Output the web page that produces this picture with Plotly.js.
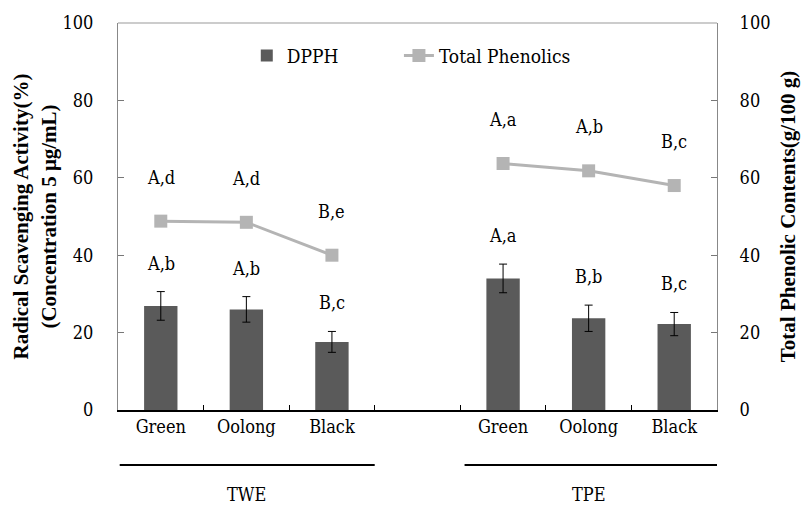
<!DOCTYPE html>
<html>
<head>
<meta charset="utf-8">
<script src="https://cdn.plot.ly/plotly-3.0.1.min.js"></script>
<style>body{margin:0;background:#fff}#chart{width:803px;height:505px}</style>
</head>
<body>
<div id="chart"></div>
<script>
// ---- data ----
const groups = ['TWE', 'TPE'];
const teas = ['Green', 'Oolong', 'Black'];
const dpph = [[26.9, 26.0, 17.6], [34.0, 23.7, 22.2]];
const dpphErr = [[3.7, 3.3, 2.7], [3.7, 3.4, 3.0]];
const phenolics = [[48.8, 48.5, 40.0], [63.7, 61.8, 58.0]];
const dpphLabels = [['A,b', 'A,b', 'B,c'], ['A,a', 'B,b', 'B,c']];
const phenLabels = [['A,d', 'A,d', 'B,e'], ['A,a', 'A,b', 'B,c']];
const yTicks = [0, 20, 40, 60, 80, 100];

const cats = [], catText = [], yD = [], eD = [], yP = [], lD = [], lP = [];
groups.forEach((g, gi) => {
  if (gi > 0) { cats.push('gap'); catText.push(''); yD.push(null); eD.push(null); yP.push(null); lD.push(''); lP.push(''); }
  teas.forEach((t, ti) => {
    cats.push(g + ' ' + t); catText.push(t);
    yD.push(dpph[gi][ti]); eD.push(dpphErr[gi][ti]);
    yP.push(phenolics[gi][ti]);
    lD.push(dpphLabels[gi][ti]); lP.push(phenLabels[gi][ti]);
  });
});

const FONT = '"DejaVu Serif Condensed", "DejaVu Serif", serif';
const BFONT = '"Liberation Serif", "DejaVu Serif", serif';
const SZ = 18;

const traces = [
  {
    type: 'bar', name: 'DPPH', x: cats, y: yD, legend: 'legend',
    marker: { color: '#5a5a5a' },
    error_y: { type: 'data', array: eD, visible: true, color: '#000', thickness: 1, width: 4 },
    hoverinfo: 'skip'
  },
  {
    type: 'scatter', mode: 'lines+markers', name: 'Total Phenolics', x: cats, y: yP, legend: 'legend2',
    yaxis: 'y2', connectgaps: false,
    line: { color: '#b4b4b4', width: 3 },
    marker: { symbol: 'square', size: 13, color: '#b4b4b4' },
    hoverinfo: 'skip'
  }
];

const annotations = [];
cats.forEach((c, i) => {
  if (yD[i] != null) {
    annotations.push({ x: c, y: yD[i] + eD[i], xref: 'x', yref: 'y', text: lD[i], showarrow: false,
      yanchor: 'bottom', yshift: 16, font: { family: FONT, size: SZ, color: '#000' } });
  }
  if (yP[i] != null) {
    annotations.push({ x: c, y: yP[i], xref: 'x', yref: 'y2', text: lP[i], showarrow: false,
      yanchor: 'middle', yshift: 44, font: { family: FONT, size: SZ, color: '#000' } });
  }
});

const shapes = [{ type: 'line', xref: 'paper', yref: 'paper', x0: 0, x1: 1, y0: 1, y1: 1, line: { color: '#999', width: 1 } }];
let start = 0;
groups.forEach((g, gi) => {
  const i0 = start, i1 = start + teas.length - 1;
  shapes.push({ type: 'line', xref: 'x', yref: 'paper', x0: i0 - 0.5 + (gi > 0 ? 0.05 : 0.02), x1: i1 + 0.5, y0: -0.142, y1: -0.142,
    line: { color: '#000', width: 2 } });
  annotations.push({ x: (i0 + i1) / 2, y: -0.218, xref: 'x', yref: 'paper', text: g, showarrow: false,
    yanchor: 'middle', font: { family: FONT, size: SZ, color: '#000' } });
  start = i1 + 2;
});

const legendFont = { family: FONT, size: 19, color: '#000' };
const layout = {
  width: 803, height: 505,
  margin: { l: 118, r: 86, t: 23, b: 95 },
  paper_bgcolor: '#fff', plot_bgcolor: '#fff',
  font: { family: FONT, size: SZ, color: '#000' },
  showlegend: true,
  legend: { orientation: 'h', x: 0.215, y: 0.965, xanchor: 'left', yanchor: 'top', font: legendFont, bgcolor: 'rgba(0,0,0,0)' },
  legend2: { orientation: 'h', x: 0.469, y: 0.965, xanchor: 'left', yanchor: 'top', font: legendFont, bgcolor: 'rgba(0,0,0,0)' },
  bargap: 0.61,
  xaxis: {
    type: 'category', categoryorder: 'array', categoryarray: cats,
    tickmode: 'array', tickvals: cats, ticktext: catText, tickson: 'boundaries',
    range: [-0.5, cats.length - 0.5],
    ticks: 'inside', ticklen: 5, tickcolor: '#000', tickwidth: 1,
    showline: true, linecolor: '#000', linewidth: 1.5,
    showgrid: false, zeroline: false,
    tickfont: { family: FONT, size: SZ, color: '#000' }
  },
  yaxis: {
    range: [0, 100], tickvals: yTicks, ticks: 'inside', ticklen: 6, tickcolor: '#777',
    showline: true, linecolor: '#888', linewidth: 1,
    showgrid: false, zeroline: false, ticklabelstandoff: 20,
    tickfont: { family: FONT, size: SZ, color: '#000' },
    title: { text: '<b>Radical Scavenging Activity(%)<br>(Concentration 5 μg/mL)</b>', standoff: 0,
      font: { family: BFONT, size: 21, color: '#000' } }
  },
  yaxis2: {
    range: [0, 100], tickvals: yTicks, overlaying: 'y', side: 'right', ticks: 'inside', ticklen: 6, tickcolor: '#777',
    showline: true, linecolor: '#888', linewidth: 1,
    showgrid: false, zeroline: false, ticklabelstandoff: 18,
    tickfont: { family: FONT, size: SZ, color: '#000' },
    title: { text: '<b>Total Phenolic Contents(g/100 g)</b>', standoff: 10,
      font: { family: BFONT, size: 21, color: '#000' } }
  },
  annotations: annotations,
  shapes: shapes
};

Plotly.newPlot('chart', traces, layout, { displayModeBar: false, staticPlot: true });
</script>
</body>
</html>
